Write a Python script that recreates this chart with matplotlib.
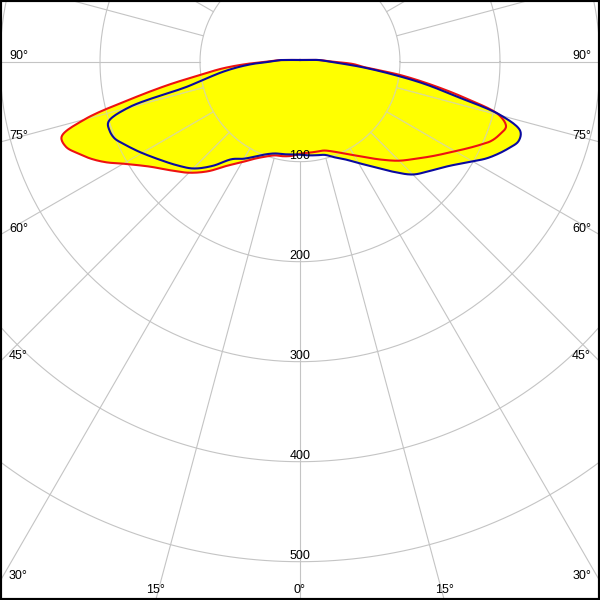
import numpy as np
import matplotlib
matplotlib.use("Agg")
import matplotlib.pyplot as plt

# angles from nadir (degrees) at which intensities are given
angles = [0, 5, 10, 15, 20, 25, 30, 35, 40, 45, 50, 55, 60, 62.5, 65, 67.5, 70,
          72.5, 75, 77.5, 80, 82.5, 85, 87.5, 90, 95, 100, 110, 120, 135, 150, 165, 180]

# red curve (plane 1): left half and right half
red_left = [92, 94.5, 96, 97, 101, 107, 116, 127, 143, 157, 169, 183, 204, 218, 230, 240, 249,
            250, 223, 174, 134, 100, 78, 54, 33, 19, 10, 5, 3.4, 2.4, 2, 1.8, 1.7]
red_right = [92, 91.5, 91.5, 92, 95.5, 101, 108, 117, 128, 140, 151, 164, 179, 188, 197.5, 207, 212.6,
             216, 206, 170.5, 134, 100, 65.5, 53, 33, 19, 10, 5, 3.4, 2.4, 2, 1.8, 1.7]

# blue curve (plane 2)
blue_left = [93, 93, 94, 95, 98.5, 104.5, 112, 119, 136, 151, 161, 171, 182.5, 188.5, 194.6, 200.6, 202.5,
             201, 178, 116, 94, 78, 62, 46, 30, 19, 10, 5, 3.4, 2.4, 2, 1.8, 1.7]
blue_right = [93, 94, 95, 96.5, 101.8, 107.9, 117, 128.4, 143.4, 159.5, 169.8, 181.8, 199.3, 209.7, 218.3, 226, 232.5,
              231, 208.6, 160, 125, 89.5, 62.3, 41.7, 30, 19, 10, 5, 3.4, 2.4, 2, 1.8, 1.7]

ring_values = [100, 200, 300, 400, 500]
side_angle_labels = [90, 75, 60, 45, 30]
bottom_angle_labels = [15, 0]

YELLOW = "#ffff00"
RED = "#ee1111"
BLUE = "#0a0aa0"
GRID = "#c4c4c4"
GRID_ON_FILL = "#dede88"


def catmull_rom_closed(x, y, n=12, alpha=0.5):
    P = np.column_stack([x, y])
    m = len(P)
    out = []
    for i in range(m):
        p0, p1, p2, p3 = P[(i - 1) % m], P[i], P[(i + 1) % m], P[(i + 2) % m]
        def tj(ti, a, b):
            d = np.hypot(*(b - a))
            return ti + max(d, 1e-6) ** alpha
        t0 = 0.0
        t1 = tj(t0, p0, p1)
        t2 = tj(t1, p1, p2)
        t3 = tj(t2, p2, p3)
        ts = np.linspace(t1, t2, n, endpoint=False)[:, None]
        A1 = (t1 - ts) / (t1 - t0) * p0 + (ts - t0) / (t1 - t0) * p1
        A2 = (t2 - ts) / (t2 - t1) * p1 + (ts - t1) / (t2 - t1) * p2
        A3 = (t3 - ts) / (t3 - t2) * p2 + (ts - t2) / (t3 - t2) * p3
        B1 = (t2 - ts) / (t2 - t0) * A1 + (ts - t0) / (t2 - t0) * A2
        B2 = (t3 - ts) / (t3 - t1) * A2 + (ts - t1) / (t3 - t1) * A3
        C = (t2 - ts) / (t2 - t1) * B1 + (ts - t1) / (t2 - t1) * B2
        out.append(C)
    out = np.vstack(out)
    out = np.vstack([out, out[:1]])
    return out[:, 0], out[:, 1]


def full_curve(left, right):
    a = np.array(angles, dtype=float)
    th = np.concatenate([-a[::-1], a[1:-1]])
    r = np.concatenate([np.array(left, float)[::-1], np.array(right, float)[1:-1]])
    t = np.radians(th)
    return catmull_rom_closed(r * np.sin(t), -r * np.cos(t))


fig = plt.figure(figsize=(6, 6), dpi=100)
ax = fig.add_axes([0, 0, 1, 1])
cy_top = 61.7
ax.set_xlim(-300, 300)
ax.set_ylim(-(600 - cy_top), cy_top)
ax.set_xticks([])
ax.set_yticks([])

rx, ry = full_curve(red_left, red_right)
bx, by = full_curve(blue_left, blue_right)

patches = ax.fill(rx, ry, color=YELLOW, lw=0, zorder=1)
patches += ax.fill(bx, by, color=YELLOW, lw=0, zorder=1)

# grid segments
tt = np.linspace(0, 2 * np.pi, 361)
segs = []
for R in ring_values:
    segs.append((R * np.cos(tt), R * np.sin(tt)))
for a in range(0, 360, 15):
    t = np.radians(a)
    segs.append(([100 * np.sin(t), 1000 * np.sin(t)], [-100 * np.cos(t), -1000 * np.cos(t)]))

for sx, sy in segs:
    ax.plot(sx, sy, color=GRID, lw=0.8, zorder=0.5)
    for p in patches:
        ln, = ax.plot(sx, sy, color=GRID_ON_FILL, lw=0.8, zorder=2)
        ln.set_clip_path(p)

ax.plot(rx, ry, color=RED, lw=1.5, zorder=3, solid_joinstyle="round")
ax.plot(bx, by, color=BLUE, lw=1.5, zorder=4, solid_joinstyle="round")

font = dict(family=["Liberation Sans", "DejaVu Sans"], fontsize=9, color="black", zorder=5)
for R in ring_values:
    ax.text(0, -R + 2.7, str(R), ha="center", va="baseline", **font)

for a in side_angle_labels:
    t = np.radians(a)
    y = -300 * np.cos(t) / np.sin(t)
    ax.text(-291, y + 2.7, f"{a}°", ha="left", va="baseline", **font)
    ax.text(291, y + 2.7, f"{a}°", ha="right", va="baseline", **font)

ybot = -(600 - cy_top)
for a in bottom_angle_labels:
    t = np.radians(a)
    x = (600 - cy_top) * np.tan(t)
    ax.text(-x, ybot + 7, f"{a}°", ha="center", va="baseline", **font)
    if a != 0:
        ax.text(x, ybot + 7, f"{a}°", ha="center", va="baseline", **font)

for s in ax.spines.values():
    s.set_color("black")
    s.set_linewidth(3)

fig.savefig("out.png", dpi=100)
